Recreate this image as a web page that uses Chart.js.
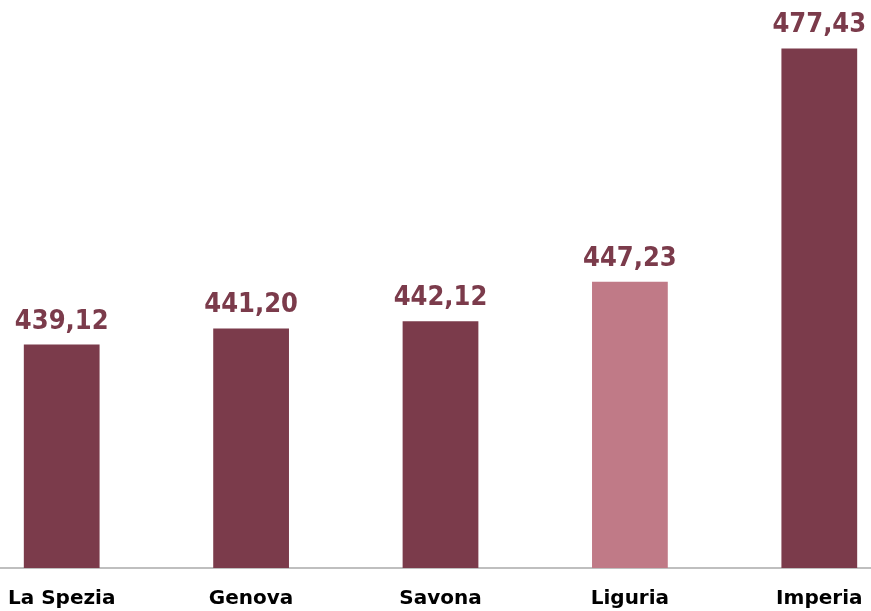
<!DOCTYPE html>
<html>
<head>
<meta charset="utf-8">
<script src="https://cdn.jsdelivr.net/npm/chart.js@4"></script>
<style>
  html, body { margin: 0; padding: 0; background: #fff; overflow: hidden; }
  #wrap { position: absolute; left: -33px; top: 0; width: 947px; height: 611px; }
</style>
</head>
<body>
<div id="wrap"><canvas id="chart"></canvas></div>
<script>
const categories = ['La Spezia', 'Genova', 'Savona', 'Liguria', 'Imperia'];
const values = [439.12, 441.20, 442.12, 447.23, 477.43];
const barColors = ['#7B3B4B', '#7B3B4B', '#7B3B4B', '#C07A87', '#7B3B4B'];

// etichette sopra le barre
const valueLabels = {
  id: 'valueLabels',
  afterDatasetsDraw(chart) {
    const ctx = chart.ctx;
    const meta = chart.getDatasetMeta(0);
    ctx.save();
    ctx.font = 'bold 27px "DejaVu Sans Condensed", "DejaVu Sans"';
    ctx.fillStyle = '#7B3B4B';
    ctx.textAlign = 'center';
    ctx.textBaseline = 'alphabetic';
    meta.data.forEach((bar, i) => {
      const txt = values[i].toFixed(2).replace('.', ',');
      ctx.fillText(txt, bar.x, bar.y - 16);
    });
    ctx.restore();
  }
};

new Chart(document.getElementById('chart'), {
  type: 'bar',
  data: {
    labels: categories,
    datasets: [{
      data: values,
      backgroundColor: barColors,
      barPercentage: 0.4,
      categoryPercentage: 1.0
    }]
  },
  options: {
    responsive: true,
    maintainAspectRatio: false,
    animation: false,
    layout: { padding: 0 },
    plugins: { legend: { display: false }, tooltip: { enabled: false } },
    scales: {
      y: { display: false, min: 410.2, max: 483.7 },
      x: {
        grid: { display: false, drawTicks: false },
        border: { display: true, color: '#BFBFBF', width: 2 },
        afterFit(scale) { scale.height = 43; },
        ticks: {
          color: '#000',
          padding: 19,
          font: { family: 'DejaVu Sans', weight: 'bold', size: 20 }
        }
      }
    }
  },
  plugins: [valueLabels]
});
</script>
</body>
</html>
